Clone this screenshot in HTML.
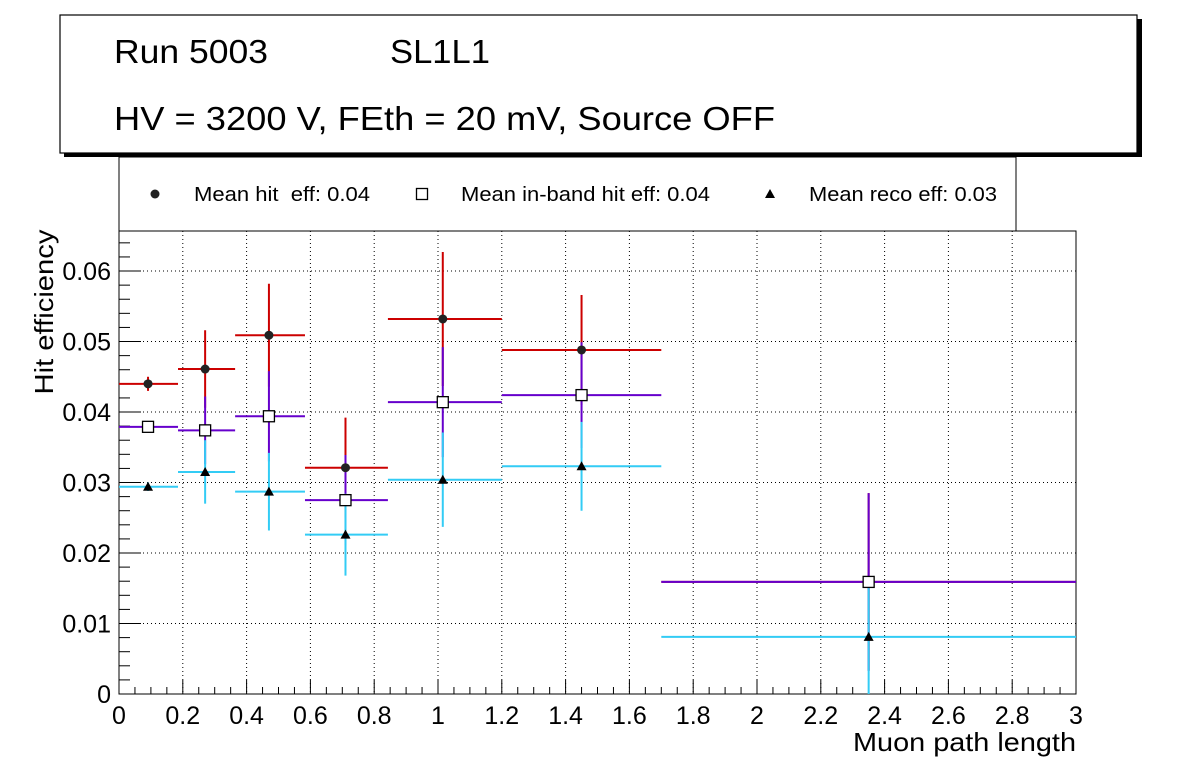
<!DOCTYPE html>
<html><head><meta charset="utf-8"><style>
body{margin:0;background:#fff;width:1196px;height:772px;overflow:hidden}
svg{font-family:"Liberation Sans",sans-serif}
text{white-space:pre}
</style></head><body>
<svg id="c" width="1196" height="772">
<rect x="64" y="19" width="1078" height="138" fill="#000"/>
<rect x="60" y="15" width="1077" height="138" fill="#fff" stroke="#000" stroke-width="1.2"/>
<text x="114" y="63" font-size="33" textLength="154" lengthAdjust="spacingAndGlyphs">Run 5003</text>
<text x="390" y="63" font-size="33" textLength="100" lengthAdjust="spacingAndGlyphs">SL1L1</text>
<text x="114" y="130" font-size="33" textLength="661" lengthAdjust="spacingAndGlyphs">HV = 3200 V, FEth = 20 mV, Source OFF</text>
<rect x="119" y="157" width="897" height="74" fill="#fff" stroke="#000" stroke-width="1"/>
<g id="legend" font-size="20"></g>
<g id="grid"></g>
<rect x="119" y="231" width="957" height="463" fill="none" stroke="#000" stroke-width="1"/>
<g id="axes"></g>
<g id="series"></g>
<text font-size="26" transform="rotate(-90)" x="-312" y="53" text-anchor="middle" textLength="165" lengthAdjust="spacingAndGlyphs">Hit efficiency</text>
<text x="853" y="751" font-size="26" textLength="223" lengthAdjust="spacingAndGlyphs">Muon path length</text>
</svg>
<script>
const binEdges=[0,0.185,0.364,0.583,0.843,1.2,1.7,3];
const xCenters=[0.091,0.27,0.47,0.71,1.015,1.45,2.35];
const hitEff=[0.0440,0.0461,0.0509,0.0321,0.0532,0.0488,0.0159];
const hitErr=[0.0010,0.0055,0.0073,0.0071,0.0095,0.0078,0.0126];
const bandEff=[0.0379,0.0374,0.0394,0.0275,0.0414,0.0424,0.0159];
const bandErr=[0.0006,0.0048,0.0064,0.0064,0.0078,0.0075,0.0126];
const recoEff=[0.0294,0.0315,0.0287,0.0226,0.0304,0.0323,0.0081];
const recoErr=[0.0006,0.0045,0.0055,0.0058,0.0067,0.0063,0.0081];
const xTicks=[0,0.2,0.4,0.6,0.8,1,1.2,1.4,1.6,1.8,2,2.2,2.4,2.6,2.8,3];
const xTickLabels=["0","0.2","0.4","0.6","0.8","1","1.2","1.4","1.6","1.8","2","2.2","2.4","2.6","2.8","3"];
const yTicks=[0,0.01,0.02,0.03,0.04,0.05,0.06];
const yTickLabels=["0","0.01","0.02","0.03","0.04","0.05","0.06"];
const NS="http://www.w3.org/2000/svg";
const X0=119,X1=1076,Y0=694,Y1=231,YMAX=0.06568;
const sx=v=>X0+(v/3)*(X1-X0);
const sy=v=>Math.max(Y1,Math.min(Y0,Y0-(v/YMAX)*(Y0-Y1)));
function mk(tag,attrs,parent){const e=document.createElementNS(NS,tag);for(const k in attrs)e.setAttribute(k,attrs[k]);parent.appendChild(e);return e;}
const grid=document.getElementById('grid'),axes=document.getElementById('axes'),ser=document.getElementById('series'),leg=document.getElementById('legend');
xTicks.forEach((t,i)=>{const x=sx(t);
 if(i>0&&i<xTicks.length-1){const g=mk('line',{x1:x,x2:x,y1:Y1,y2:Y0,stroke:'#000','stroke-dasharray':'1,3','stroke-width':1},grid);
 }
 const tk=mk('line',{x1:x,x2:x,y1:Y0,y2:Y0-14,stroke:'#000'},axes);
 
 const l=mk('text',{x:x,y:724,'font-size':25,'text-anchor':'middle'},axes);l.textContent=xTickLabels[i];
 
 if(i<xTicks.length-1){for(let k=1;k<4;k++){const mx=sx(t+0.05*k);const m=mk('line',{x1:mx,x2:mx,y1:Y0,y2:Y0-7,stroke:'#000'},axes);
 }}
});
yTicks.forEach((t,i)=>{const y=sy(t);
 if(i>0){const g=mk('line',{x1:X0,x2:X1,y1:y,y2:y,stroke:'#000','stroke-dasharray':'1,3','stroke-width':1},grid);
 }
 const tk=mk('line',{x1:X0,x2:X0+22,y1:y,y2:y,stroke:'#000'},axes);
 
 const l=mk('text',{x:111,y:y+9,'font-size':25,'text-anchor':'end'},axes);l.textContent=yTickLabels[i];
 
 for(let k=1;k<5;k++){const v=t+0.002*k;if(v>YMAX)break;const my=sy(v);const m=mk('line',{x1:X0,x2:X0+11,y1:my,y2:my,stroke:'#000'},axes);
 }
});
function marker(type,x,y,parent){let e;
 if(type==='circle')e=mk('circle',{cx:x,cy:y,r:4.5,fill:'#222'},parent);
 else if(type==='square')e=mk('rect',{x:x-5.5,y:y-5.5,width:11,height:11,fill:'#fff',stroke:'#000','stroke-width':1.3},parent);
 else e=mk('path',{d:`M${x-5},${y+4}L${x+5},${y+4}L${x},${y-5}Z`,fill:'#000'},parent);
 return e;}
function drawSeries(vals,errs,color,type,name){
 const g=mk('g',{},ser);
 vals.forEach((v,i)=>{const y=sy(v),x=sx(xCenters[i]);
  const h=mk('line',{x1:sx(binEdges[i]),x2:sx(binEdges[i+1]),y1:y,y2:y,stroke:color,'stroke-width':2},g);
  
  const ve=mk('line',{x1:x,x2:x,y1:sy(v-errs[i]),y2:sy(v+errs[i]),stroke:color,'stroke-width':2},g);
  
 });
 return g;}
drawSeries(hitEff,hitErr,'#cc0000','circle','hit');
drawSeries(bandEff,bandErr,'#6600cc','square','inband');
drawSeries(recoEff,recoErr,'#33ccf5','triangle','reco');
[[hitEff,'circle','hit'],[bandEff,'square','inband'],[recoEff,'triangle','reco']].forEach(([vals,type,name])=>{
 vals.forEach((v,i)=>{const m=marker(type,sx(xCenters[i]),sy(v),ser);
 });});
[[155,'circle','Mean hit  eff: 0.04',176],[422,'square','Mean in-band hit eff: 0.04',249],[770,'triangle','Mean reco eff: 0.03',188]].forEach(([x,type,txt,w])=>{
 const m=marker(type,x,194,leg);
 const t=mk('text',{x:x+39,y:201,'font-size':20,textLength:w,lengthAdjust:'spacingAndGlyphs'},leg);t.textContent=txt;
 });
</script>
</body></html>
